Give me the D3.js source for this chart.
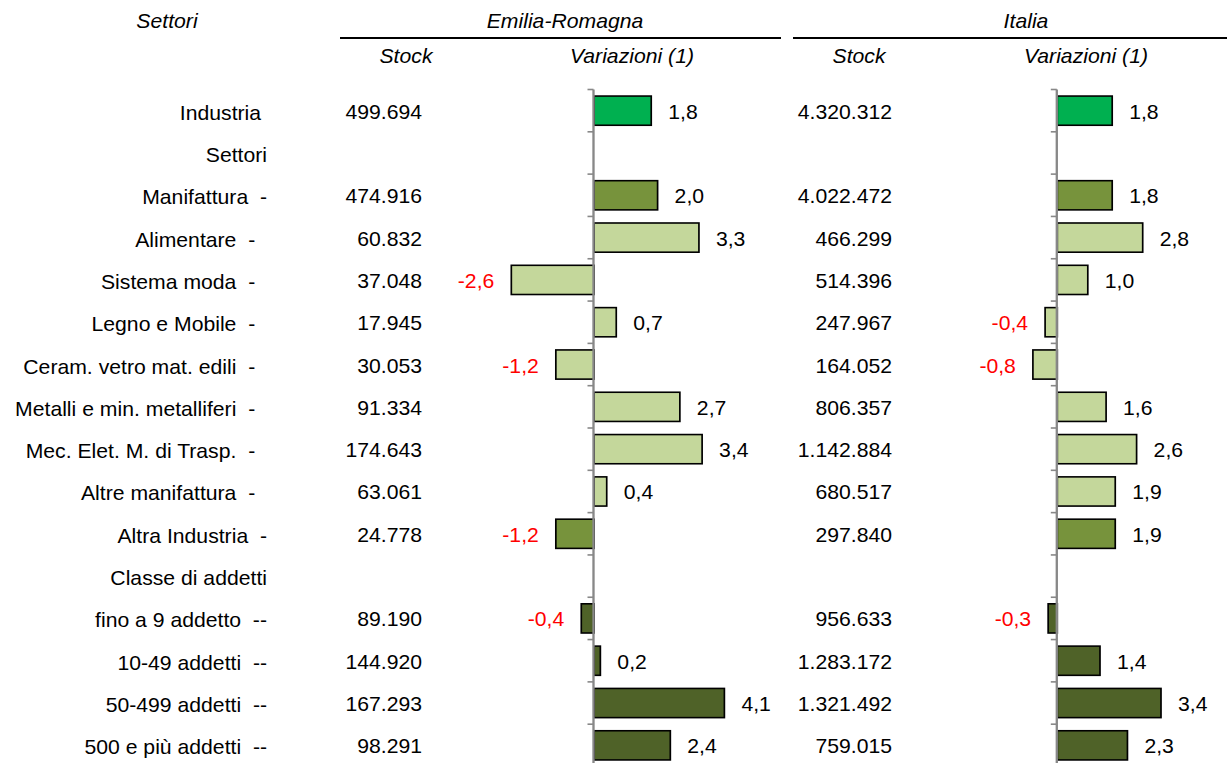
<!DOCTYPE html>
<html>
<head>
<meta charset="utf-8">
<script src="https://cdn.jsdelivr.net/npm/d3@7"></script>
<style>
  html, body { margin: 0; padding: 0; background: #fff; }
  svg { display: block; }
  text { font-family: "Liberation Sans", Arial, sans-serif; font-size: 20px; fill: #000; white-space: pre; }
  .hdr { font-style: italic; }
</style>
</head>
<body>
<svg id="chart"></svg>
<script>
// Row labels (trailing spaces kept as in the source table)
const categories = [
  "Industria ", "Settori", "Manifattura  -", "Alimentare  -  ", "Sistema moda  -  ",
  "Legno e Mobile  -  ", "Ceram. vetro mat. edili  -  ", "Metalli e min. metalliferi  -  ",
  "Mec. Elet. M. di Trasp.  -  ", "Altre manifattura  -  ", "Altra Industria  -",
  "Classe di addetti", "fino a 9 addetto  --", "10-49 addetti  --", "50-499 addetti  --",
  "500 e più addetti  --"
];
// Row kind: total, section heading, aggregate, sector detail, size class
const groups = ["total", "heading", "aggregate", "sector", "sector", "sector", "sector", "sector",
  "sector", "sector", "aggregate", "heading", "size", "size", "size", "size"];

const stockER = [499694, null, 474916, 60832, 37048, 17945, 30053, 91334, 174643, 63061, 24778,
  null, 89190, 144920, 167293, 98291];
const varER = [1.8, null, 2.0, 3.3, -2.6, 0.7, -1.2, 2.7, 3.4, 0.4, -1.2, null, -0.4, 0.2, 4.1, 2.4];

const stockIT = [4320312, null, 4022472, 466299, 514396, 247967, 164052, 806357, 1142884, 680517,
  297840, null, 956633, 1283172, 1321492, 759015];
const varIT = [1.8, null, 1.8, 2.8, 1.0, -0.4, -0.8, 1.6, 2.6, 1.9, 1.9, null, -0.3, 1.4, 3.4, 2.3];

const headers = { corner: "Settori", left: "Emilia-Romagna", right: "Italia", stock: "Stock", change: "Variazioni (1)" };

// ---- layout ----
const W = 1227, H = 763;
const SX = 1.06;                 // slight horizontal stretch of the whole drawing
const X = v => v / SX;           // screen px -> drawing units

const fill = { total: "#00B050", aggregate: "#77933C", sector: "#C4D79B", size: "#4F6228" };

const it = d3.formatLocale({ decimal: ",", thousands: ".", grouping: [3], currency: ["€", ""], minus: "-" });
const fmtStock = it.format(",d");
const fmtVar = it.format(".1f");

const svg = d3.select("#chart")
  .attr("width", W).attr("height", H)
  .attr("viewBox", `0 0 ${W / SX} ${H}`)
  .attr("preserveAspectRatio", "none");

const y = d3.scaleBand()
  .domain(d3.range(categories.length))
  .range([89.5, 766.5])
  .paddingInner(0.31)
  .paddingOuter(0.155);

const xER = d3.scaleLinear().domain([0, 1]).range([X(594), X(594 + 31.8)]);
const xIT = d3.scaleLinear().domain([0, 1]).range([X(1057.3), X(1057.3 + 30.5)]);

// ---- headers ----
const hdr = svg.append("g").attr("class", "hdr");
hdr.append("text").attr("class", "hdr").attr("x", X(167)).attr("y", 28).attr("text-anchor", "middle").text(headers.corner);
hdr.append("text").attr("class", "hdr").attr("x", X(565)).attr("y", 28).attr("text-anchor", "middle").text(headers.left);
hdr.append("text").attr("class", "hdr").attr("x", X(1026)).attr("y", 28).attr("text-anchor", "middle").text(headers.right);
hdr.append("line").attr("x1", X(340)).attr("x2", X(781)).attr("y1", 38).attr("y2", 38).attr("stroke", "#000").attr("stroke-width", 2);
hdr.append("line").attr("x1", X(793)).attr("x2", X(1227)).attr("y1", 38).attr("y2", 38).attr("stroke", "#000").attr("stroke-width", 2);
[[406, headers.stock], [632, headers.change], [859, headers.stock], [1086, headers.change]].forEach(([cx, t]) => {
  hdr.append("text").attr("class", "hdr").attr("x", X(cx)).attr("y", 63).attr("text-anchor", "middle").text(t);
});

// ---- row labels ----
const rows = d3.range(categories.length);
svg.append("g").selectAll("text").data(rows).join("text")
  .attr("x", X(267))
  .attr("y", i => y(i) + y.bandwidth() / 2 + 9)
  .attr("text-anchor", "end")
  .text(i => categories[i]);

// ---- one block per territory: stock column + bar chart of changes ----
function block(stock, change, x, stockRight) {
  const g = svg.append("g");
  const idx = rows.filter(i => change[i] !== null);

  g.selectAll("text.stock").data(idx).join("text")
    .attr("class", "stock")
    .attr("x", X(stockRight))
    .attr("y", i => y(i) + y.bandwidth() / 2 + 8)
    .attr("text-anchor", "end")
    .text(i => fmtStock(stock[i]));

  g.selectAll("rect").data(idx).join("rect")
    .attr("x", i => Math.min(x(0), x(change[i])))
    .attr("width", i => Math.abs(x(change[i]) - x(0)))
    .attr("y", i => y(i))
    .attr("height", y.bandwidth())
    .attr("fill", i => fill[groups[i]])
    .attr("stroke", "#000")
    .attr("stroke-width", 1.6);

  g.selectAll("text.val").data(idx).join("text")
    .attr("class", "val")
    .attr("x", i => change[i] >= 0 ? x(change[i]) + X(17) : x(change[i]) - X(17))
    .attr("y", i => y(i) + y.bandwidth() / 2 + 8)
    .attr("text-anchor", i => change[i] >= 0 ? "start" : "end")
    .style("fill", i => change[i] >= 0 ? "#000" : "#FF0000")
    .text(i => fmtVar(change[i]));

  // category axis at zero with ticks on row boundaries
  const x0 = x(0) - X(0.5);
  const [y0, y1] = y.range();
  const ticks = d3.range(categories.length + 1).map(k => y0 + k * y.step());
  const ax = g.append("g").attr("stroke", "#888888");
  ax.append("line").attr("x1", x0).attr("x2", x0).attr("y1", y0).attr("y2", y1).attr("stroke-width", 2.2);
  ax.selectAll("line.tick").data(ticks).join("line")
    .attr("class", "tick")
    .attr("x1", x0 - X(6)).attr("x2", x0)
    .attr("y1", d => d).attr("y2", d => d)
    .attr("stroke-width", 1.6);
}

block(stockER, varER, xER, 422);
block(stockIT, varIT, xIT, 892);
</script>
</body>
</html>
